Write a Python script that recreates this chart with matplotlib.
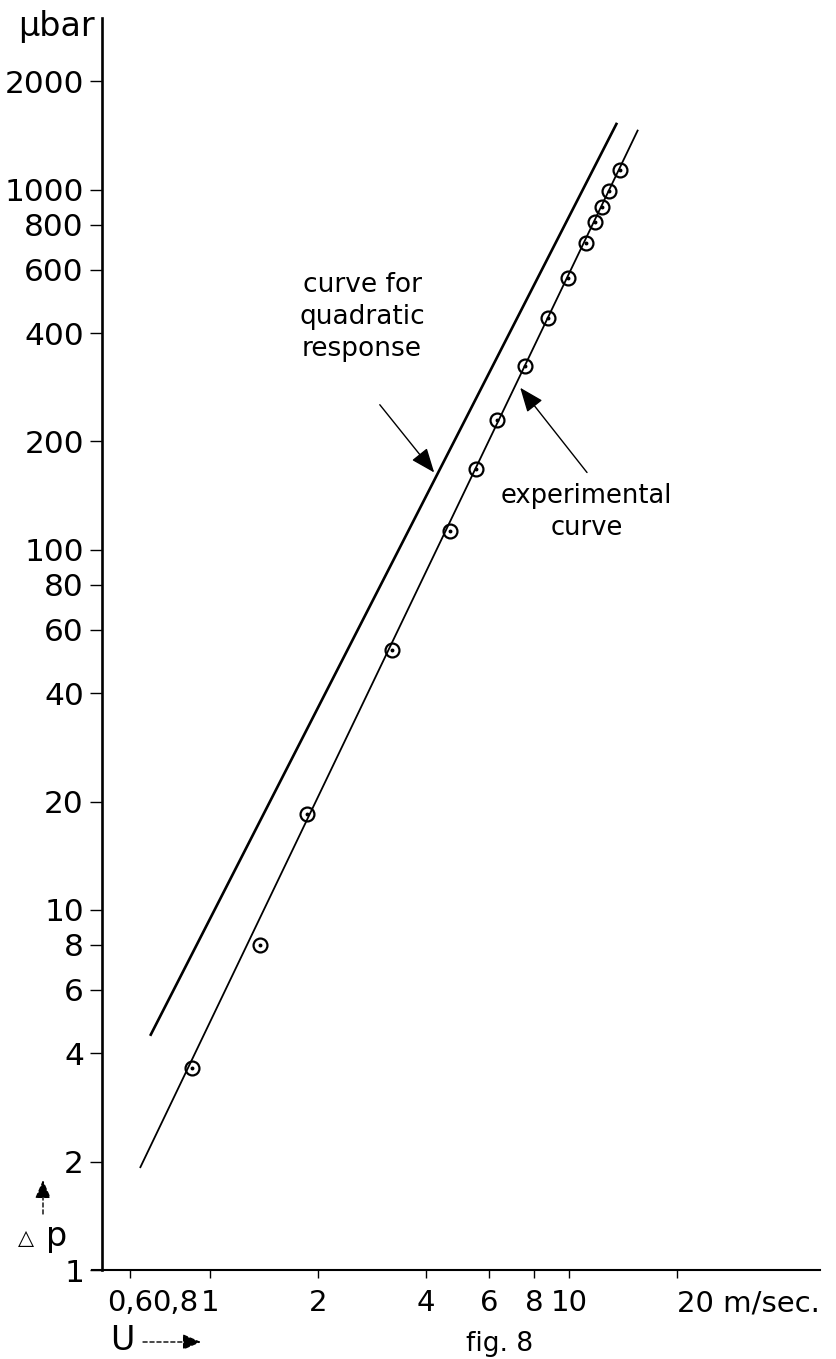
import matplotlib
matplotlib.use('Agg')
import matplotlib.pyplot as plt
from matplotlib.ticker import FixedLocator, FixedFormatter, NullLocator

plt.rcParams['font.family'] = ['DejaVu Sans']

# measured points (U in m/sec, delta p in microbar)
u_meas = [0.89, 1.38, 1.86, 3.21, 4.66, 5.51, 6.30, 7.54, 8.74, 9.94,
          11.15, 11.81, 12.36, 12.92, 13.87]
dp_meas = [3.64, 8.0, 18.5, 52.7, 113, 168, 230, 324, 441, 570,
           712, 815, 897, 993, 1136]

# experimental curve (straight line in log-log)
exp_u = [0.638, 15.56]
exp_dp = [1.92, 1468]

# curve for quadratic response
quad_u = [0.681, 13.6]
quad_dp = [4.47, 1535]

x_ticks = [0.6, 0.8, 1, 2, 4, 6, 8, 10, 20]
x_labels = ['0,6', '0,8', '1', '2', '4', '6', '8', '10', '20 m/sec.']
y_ticks = [1, 2, 4, 6, 8, 10, 20, 40, 60, 80, 100, 200, 400, 600, 800, 1000, 2000]
y_labels = [str(v) for v in y_ticks]

W, H = 837, 1359
fig = plt.figure(figsize=(W / 100, H / 100), dpi=100)
ax = fig.add_axes([102 / W, 89 / H, 718 / W, 1252 / H])
ax.set_xscale('log')
ax.set_yscale('log')
ax.set_xlim(0.5, 50)
ax.set_ylim(1, 3000)

ax.plot(quad_u, quad_dp, color='black', lw=1.9, solid_capstyle='butt')
ax.plot(exp_u, exp_dp, color='black', lw=1.3, solid_capstyle='butt')
ax.plot(u_meas, dp_meas, linestyle='none', marker='o', markersize=10,
        markerfacecolor='none', markeredgecolor='black', markeredgewidth=1.6)
ax.plot(u_meas, dp_meas, linestyle='none', marker='o', markersize=1.8,
        color='black')

ax.xaxis.set_major_locator(FixedLocator(x_ticks))
ax.xaxis.set_major_formatter(FixedFormatter(x_labels))
ax.xaxis.set_minor_locator(NullLocator())
ax.yaxis.set_major_locator(FixedLocator(y_ticks))
ax.yaxis.set_major_formatter(FixedFormatter(y_labels))
ax.yaxis.set_minor_locator(NullLocator())

ax.tick_params(axis='x', direction='out', length=6, width=1.0, pad=8,
               labelsize=21)
ax.tick_params(axis='y', direction='out', length=9, width=1.0, pad=4,
               labelsize=22.5)
for sp in ('top', 'right'):
    ax.spines[sp].set_visible(False)
ax.spines['left'].set_linewidth(1.9)
ax.spines['bottom'].set_linewidth(1.5)
ax.spines['bottom'].set_bounds(0.47, 50)

xt = ax.xaxis.get_major_ticks()
xt[1].tick1line.set_visible(False)
lbls = ax.get_xticklabels()
lbls[-1].set_horizontalalignment('left')

arrow = dict(arrowstyle='-|>,head_length=0.75,head_width=0.3',
             mutation_scale=20, lw=1.0, color='black', shrinkA=0, shrinkB=0)
ax.annotate('', xy=(4.21, 164), xytext=(2.97, 253), arrowprops=arrow)
ax.annotate('', xy=(7.31, 282), xytext=(11.22, 164), arrowprops=arrow)

ax.text(2.65, 444, 'curve for\nquadratic\nresponse', ha='center', va='center',
        fontsize=19, linespacing=1.3)
ax.text(11.2, 127, 'experimental\ncurve', ha='center', va='center',
        fontsize=18.5, linespacing=1.3)

# axis names
fig.text(18 / W, 1 - 36 / H, 'µbar', fontsize=24, ha='left', va='baseline')
fig.text(18 / W, 1 - 1244 / H, '△', fontsize=15, ha='left', va='baseline')
fig.text(46 / W, 1 - 1246 / H, 'p', fontsize=24, ha='left', va='baseline')
fig.text(110 / W, 1 - 1350 / H, 'U', fontsize=24, ha='left', va='baseline')
dash_arrow = dict(arrowstyle='-|>,head_length=0.7,head_width=0.3',
                  mutation_scale=16, lw=1.0, color='black', linestyle=(0, (3, 2)),
                  shrinkA=0, shrinkB=0)
ax.annotate('', xy=(43 / W, 1 - 1180 / H), xytext=(43 / W, 1 - 1214 / H),
            xycoords='figure fraction', textcoords='figure fraction',
            arrowprops=dash_arrow, annotation_clip=False)
ax.annotate('', xy=(201 / W, 1 - 1342 / H), xytext=(143 / W, 1 - 1342 / H),
            xycoords='figure fraction', textcoords='figure fraction',
            arrowprops=dash_arrow, annotation_clip=False)

fig.text(500 / W, 2 / H, 'fig. 8', fontsize=19, ha='center', va='bottom')

fig.savefig('out.png', dpi=100, facecolor='white')
